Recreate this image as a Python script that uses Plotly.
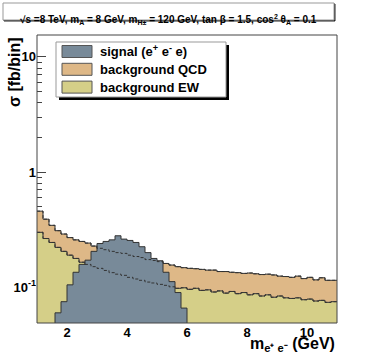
import numpy as np
import plotly.graph_objects as go

# histogram binning (GeV)
bin_edges = np.round(np.arange(1.0, 11.0001, 0.2), 1)

signal = [0, 0, 0, 0.060, 0.075, 0.105, 0.135, 0.158, 0.172, 0.205,
          0.240, 0.250, 0.258, 0.280, 0.262, 0.255, 0.245, 0.225, 0.200, 0.178,
          0.170, 0.135, 0.112, 0.090, 0.066, 0, 0, 0, 0, 0,
          0, 0, 0, 0, 0, 0, 0, 0, 0, 0,
          0, 0, 0, 0, 0, 0, 0, 0, 0, 0]

bkg_ew = [0.300, 0.265, 0.245, 0.222, 0.205, 0.190, 0.178, 0.165, 0.158, 0.151,
          0.146, 0.140, 0.134, 0.130, 0.127, 0.122, 0.118, 0.115, 0.111, 0.109,
          0.106, 0.104, 0.101, 0.098, 0.099, 0.096, 0.098, 0.094, 0.095, 0.091,
          0.093, 0.089, 0.092, 0.088, 0.090, 0.086, 0.088, 0.084, 0.086, 0.082,
          0.084, 0.081, 0.080, 0.081, 0.078, 0.079, 0.076, 0.077, 0.074, 0.075]

bkg_qcd = [0.158, 0.125, 0.100, 0.088, 0.085, 0.080, 0.080, 0.085, 0.084, 0.077,
           0.072, 0.072, 0.071, 0.070, 0.070, 0.068, 0.067, 0.066, 0.063, 0.062,
           0.061, 0.057, 0.055, 0.053, 0.049, 0.050, 0.047, 0.049, 0.046, 0.050,
           0.044, 0.048, 0.043, 0.046, 0.042, 0.047, 0.043, 0.045, 0.044, 0.046,
           0.041, 0.043, 0.042, 0.044, 0.041, 0.043, 0.040, 0.044, 0.041, 0.040]

labels = ["signal (e<sup>+</sup> e<sup>-</sup> e)", "background QCD", "background EW"]
c_sig, c_qcd, c_ew = "#788a99", "#deb887", "#d5cf88"
edge = "#333333"
floor = 1e-3  # below the visible log range, gets clipped

def steps(vals):
    v = np.where(np.array(vals) > 0, vals, floor)
    return list(bin_edges), list(v) + [v[-1]]

ew = np.array(bkg_ew)
tot = ew + np.array(bkg_qcd)

fig = go.Figure()
base_x = [bin_edges[0], bin_edges[-1]]
fig.add_trace(go.Scatter(x=base_x, y=[floor, floor], mode="lines", line=dict(width=0), hoverinfo="skip"))
x, y = steps(ew)
fig.add_trace(go.Scatter(x=x, y=y, mode="lines", line=dict(shape="hv", color=edge, width=1),
                         fill="tonexty", fillcolor=c_ew, name=labels[2]))
x, y = steps(tot)
fig.add_trace(go.Scatter(x=x, y=y, mode="lines", line=dict(shape="hv", color=edge, width=1),
                         fill="tonexty", fillcolor=c_qcd, name=labels[1]))
fig.add_trace(go.Scatter(x=base_x, y=[floor, floor], mode="lines", line=dict(width=0), hoverinfo="skip"))
x, y = steps(signal)
fig.add_trace(go.Scatter(x=x, y=y, mode="lines", line=dict(shape="hv", color=edge, width=1),
                         fill="tonexty", fillcolor=c_sig, name=labels[0]))
# background outlines seen through the signal
for vals in (ew, tot):
    x, y = steps(vals)
    fig.add_trace(go.Scatter(x=x, y=y, mode="lines",
                             line=dict(shape="hv", color=edge, width=1, dash="3px,2px")))

L, T, W, H = 37, 35, 300, 288
def px(p): return (p - L) / W
def py(p): return (T + H - p) / H

shapes = [
    # frame
    dict(type="rect", xref="paper", yref="paper", x0=0, x1=1, y0=0, y1=1,
         line=dict(color="#444", width=1)),
    # title box
    dict(type="rect", xref="paper", yref="paper", x0=px(4), x1=px(335), y0=py(4), y1=py(21),
         line=dict(color="#222", width=1), fillcolor="#222"),
    dict(type="rect", xref="paper", yref="paper", x0=px(3), x1=px(334), y0=py(3), y1=py(20),
         line=dict(color="#999", width=1), fillcolor="white"),
    # legend shadow and box
    dict(type="rect", xref="paper", yref="paper", x0=px(59), x1=px(229), y0=py(45), y1=py(100),
         line=dict(width=0), fillcolor="black"),
    dict(type="rect", xref="paper", yref="paper", x0=px(56), x1=px(226), y0=py(42), y1=py(97),
         line=dict(color="#999", width=1), fillcolor="white"),
]
annotations = []
for i, (lab, col) in enumerate(zip(labels, (c_sig, c_qcd, c_ew))):
    yc = 51.5 + i * 17.8
    shapes.append(dict(type="rect", xref="paper", yref="paper", x0=px(62), x1=px(92),
                       y0=py(yc - 6), y1=py(yc + 6), line=dict(color="#555", width=1), fillcolor=col))
    annotations.append(dict(x=px(98), y=py(yc), xref="paper", yref="paper", text=lab,
                            showarrow=False, xanchor="left", yanchor="middle",
                            font=dict(size=13, weight="bold", color="black")))

annotations += [
    dict(x=px(168.5), y=py(11.5), xref="paper", yref="paper", showarrow=False,
         text="√s =8 TeV, m<sub>A</sub> = 8 GeV, m<sub>H±</sub> = 120 GeV, tan β = 1.5, cos<sup>2</sup> θ<sub>A</sub> = 0.1",
         font=dict(size=10, weight="bold", color="black")),
    dict(x=1.0, y=py(344), xref="paper", yref="paper", showarrow=False, xanchor="right",
         yanchor="middle", text="m<sub>e⁺ e⁻</sub> (GeV)",
         font=dict(size=16, weight="bold", color="black")),
    dict(x=px(14), y=1.0, xref="paper", yref="paper", showarrow=False, textangle=-90,
         xanchor="center", yanchor="top", text="σ [fb/bin]",
         font=dict(size=16, weight="bold", color="black")),
]

fig.update_layout(
    width=374, height=359, margin=dict(l=L, r=374 - L - W, t=T, b=359 - T - H),
    plot_bgcolor="white", paper_bgcolor="white", showlegend=False,
    font=dict(family="Liberation Sans, Arial, sans-serif", color="black"),
    shapes=shapes, annotations=annotations,
)
fig.update_xaxes(range=[1, 11], showgrid=False, zeroline=False, showline=False,
                 ticks="inside", ticklen=8, tickcolor="#444", layer="below traces",
                 tickvals=[2, 4, 6, 8, 10], tickfont=dict(size=13, weight="bold"),
                 minor=dict(ticks="inside", ticklen=4, dtick=0.5, tickcolor="#444"))
minor_y = [0.06, 0.07, 0.08, 0.09] + [k / 10 for k in range(2, 10)] + list(range(2, 10))
fig.update_yaxes(type="log", range=[-1.31, 1.19], showgrid=False, zeroline=False, showline=False,
                 ticks="inside", ticklen=9, tickcolor="#444", layer="below traces",
                 tickvals=[0.1, 1, 10], ticktext=["10<sup>-1</sup>", "1", "10"],
                 tickfont=dict(size=13, weight="bold"),
                 minor=dict(ticks="inside", ticklen=5, tickvals=minor_y, tickcolor="#444"))

fig.write_html("out.html", config={"displayModeBar": False},
               post_script="document.body.style.margin = '0';")
